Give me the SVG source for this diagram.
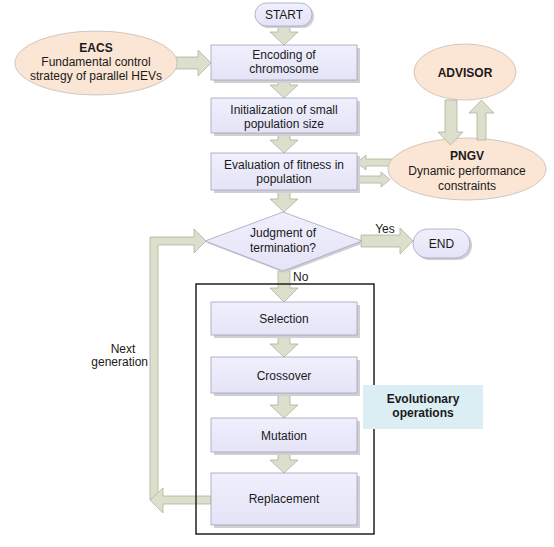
<svg xmlns="http://www.w3.org/2000/svg" width="554" height="547" viewBox="0 0 554 547">
<defs>
<linearGradient id="bx" x1="0" y1="0" x2="0" y2="1">
<stop offset="0" stop-color="#efeffd"/>
<stop offset="1" stop-color="#e4e4f7"/>
</linearGradient>
</defs>
<style>
.box{fill:url(#bx);stroke:#a4a4bc;stroke-width:0.8}
.sh{fill:#cfcfd4}
.ell{fill:#fbe5d5;stroke:#c6bcb2;stroke-width:0.8}
.arr{fill:#dbdfcb;stroke:#aeb39d;stroke-width:0.8}
.t{font-family:"Liberation Sans",Arial,sans-serif;font-size:12px;fill:#1a1a1a;text-anchor:middle}
.b{font-weight:bold}
.frame{fill:none;stroke:#222;stroke-width:1.5}
</style>
<rect width="554" height="547" fill="#ffffff"/>

<g id="connectors">
<path class="arr" d="M278,26 H290 V32 H298 L284,45 L270,32 H278 Z"/>
<path class="arr" d="M278,80 H290 V85 H298 L284,98 L270,85 H278 Z"/>
<path class="arr" d="M278,133 H290 V140 H298 L284,153 L270,140 H278 Z"/>
<path class="arr" d="M278,190 H290 V199 H298 L284,212 L270,199 H278 Z"/>
<path class="arr" d="M278,271 H290 V288 H298 L284,302 L270,288 H278 Z"/>
<path class="arr" d="M278,335 H290 V344 H298 L284,357 L270,344 H278 Z"/>
<path class="arr" d="M278,393 H290 V405 H298 L284,418 L270,405 H278 Z"/>
<path class="arr" d="M278,452 H290 V460 H298 L284,473 L270,460 H278 Z"/>
<path class="arr" d="M176,57 H198 V50 L211,63 L198,76 V69 H176 Z"/>
<path class="arr" d="M361,235 H400 V228 L413,241 L400,254 V247 H361 Z"/>
<path class="arr" d="M150,500 V237 H194 V229 L206,241 L194,253 V245 H158 V500 Z"/>
<path class="arr" d="M211,496 H163 V488 L150,500 L163,513 V504 H211 Z"/>
<path class="arr" d="M394,159 H366 V155 L357,162.5 L366,170 V166 H394 Z"/>
<path class="arr" d="M357,176 H381 V172 L390,179.5 L381,187 V183 H357 Z"/>
</g>

<g id="start">
<rect class="sh" x="257" y="5" width="57" height="23" rx="11.5"/>
<rect class="box" x="255" y="3" width="57" height="23" rx="11.5"/>
<text class="t" x="284" y="19">START</text>
</g>

<g id="eacs">
<ellipse class="ell" cx="96" cy="63" rx="81" ry="32"/>
<text class="t b" x="96" y="52">EACS</text>
<text class="t" x="96" y="66">Fundamental control</text>
<text class="t" x="96" y="80">strategy of parallel HEVs</text>
</g>

<g id="encoding">
<rect class="sh" x="214" y="48" width="146" height="35"/>
<rect class="box" x="211" y="45" width="146" height="35"/>
<text class="t" x="284" y="59">Encoding of</text>
<text class="t" x="284" y="73">chromosome</text>
</g>

<g id="init">
<rect class="sh" x="214" y="101" width="146" height="35"/>
<rect class="box" x="211" y="98" width="146" height="35"/>
<text class="t" x="284" y="114">Initialization of small</text>
<text class="t" x="284" y="128">population size</text>
</g>

<g id="eval">
<rect class="sh" x="214" y="156" width="146" height="37"/>
<rect class="box" x="211" y="153" width="146" height="37"/>
<text class="t" x="284" y="169">Evaluation of fitness in</text>
<text class="t" x="284" y="183">population</text>
</g>

<g id="pngv">
<ellipse class="ell" cx="467" cy="169" rx="79" ry="31"/>
<text class="t b" x="467" y="160">PNGV</text>
<text class="t" x="467" y="175">Dynamic performance</text>
<text class="t" x="467" y="190">constraints</text>
</g>

<g id="advisor">
<ellipse class="ell" cx="465" cy="72" rx="51" ry="28"/>
<text class="t b" x="465" y="77">ADVISOR</text>
</g>

<g id="advisor-pngv">
<path class="arr" d="M445,100 H457 V132 H463 L450.5,145 L438,132 H445 Z"/>
<path class="arr" d="M477,140 V113 H469 L481.5,100 L494,113 H486 V140 Z"/>
</g>

<g id="judgment">
<path class="sh" d="M207,243 L285,214 L364,243 L285,273 Z"/>
<path class="box" d="M205,241 L283,212 L362,241 L283,271 Z"/>
<text class="t" x="283" y="237">Judgment of</text>
<text class="t" x="283" y="252">termination?</text>
</g>

<g id="end">
<rect class="sh" x="415" y="231" width="57" height="29" rx="14.5"/>
<rect class="box" x="413" y="229" width="57" height="29" rx="14.5"/>
<text class="t" x="441.5" y="248">END</text>
</g>

<g id="labels">
<text class="t" x="385" y="233">Yes</text>
<text class="t" x="293" y="281" style="text-anchor:start">No</text>
<text class="t" x="123" y="353">Next</text>
<text class="t" x="148" y="366" style="text-anchor:end">generation</text>
</g>

<g id="evolution-frame">
<rect class="frame" x="196" y="284" width="178" height="250"/>
</g>

<g id="selection">
<rect class="sh" x="214" y="305" width="146" height="33"/>
<rect class="box" x="211" y="302" width="146" height="33"/>
<text class="t" x="284" y="323">Selection</text>
</g>

<g id="crossover">
<rect class="sh" x="214" y="360" width="146" height="36"/>
<rect class="box" x="211" y="357" width="146" height="36"/>
<text class="t" x="284" y="380">Crossover</text>
</g>

<g id="mutation">
<rect class="sh" x="214" y="421" width="146" height="34"/>
<rect class="box" x="211" y="418" width="146" height="34"/>
<text class="t" x="284" y="440">Mutation</text>
</g>

<g id="replacement">
<rect class="sh" x="214" y="476" width="146" height="52"/>
<rect class="box" x="211" y="473" width="146" height="52"/>
<text class="t" x="284" y="503">Replacement</text>
</g>

<g id="evolutionary">
<rect x="363" y="385" width="120" height="44" fill="#dbeef3"/>
<text class="t b" x="423" y="403">Evolutionary</text>
<text class="t b" x="423" y="417">operations</text>
</g>
</svg>
